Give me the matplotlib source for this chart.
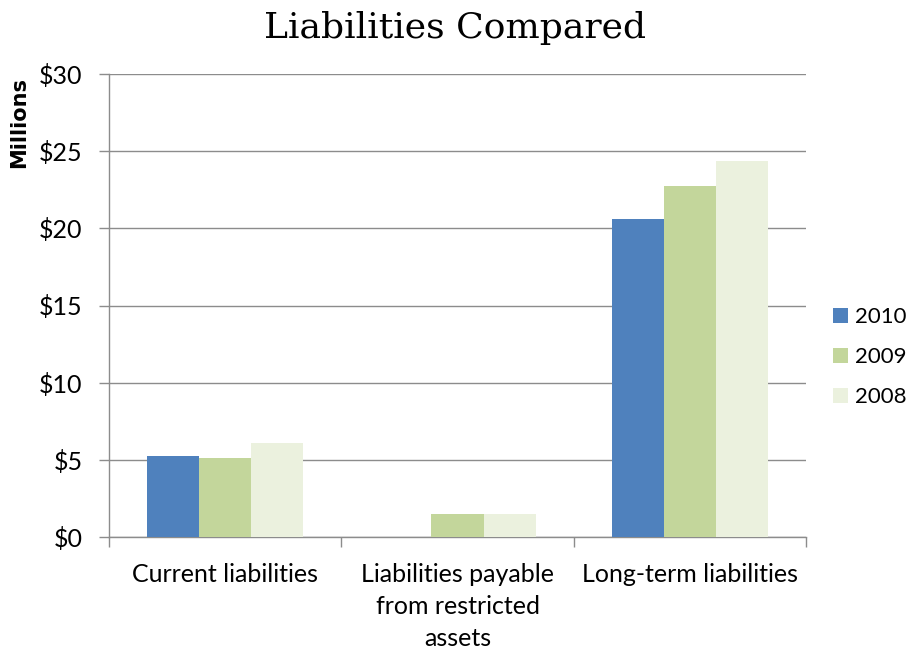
import matplotlib
matplotlib.use("Agg")
import matplotlib.pyplot as plt
import numpy as np

categories = ["Current liabilities", "Liabilities payable\nfrom restricted\nassets", "Long-term liabilities"]
years = ["2010", "2009", "2008"]
values_2010 = [5.25, 0.0, 20.6]
values_2009 = [5.15, 1.5, 22.75]
values_2008 = [6.1, 1.5, 24.35]
series = [values_2010, values_2009, values_2008]
colors = ["#4F81BD", "#C3D69B", "#EBF1DE"]
yticks = [0, 5, 10, 15, 20, 25, 30]
ytick_labels = ["$0", "$5", "$10", "$15", "$20", "$25", "$30"]

label_font = "Lato"
axis_gray = "#8C8C8C"

W, H = 911, 649
fig = plt.figure(figsize=(W / 100, H / 100), dpi=100)
left, right, top, bottom = 109, 806, 74, 537
ax = fig.add_axes([left / W, 1 - bottom / H, (right - left) / W, (bottom - top) / H])

x = np.arange(len(categories))
width = 0.224
for i, (vals, c, yr) in enumerate(zip(series, colors, years)):
    ax.bar(x + (i - 1) * width, vals, width, color=c, label=yr, zorder=3, linewidth=0)

ax.set_xlim(-0.5, 2.5)
ax.set_ylim(0, 30)
ax.set_yticks(yticks)
ax.set_yticklabels(ytick_labels, fontfamily=label_font, fontsize=18)
ax.yaxis.grid(True, color=axis_gray, linewidth=1, zorder=0)
ax.set_axisbelow(True)

# Category labels centered, tick marks at category boundaries
ax.set_xticks(x)
ax.set_xticklabels(categories, fontfamily=label_font, fontsize=18, linespacing=1.47, va="top")
ax.tick_params(axis="x", which="major", length=0, pad=19)
ax.set_xticks([-0.5, 0.5, 1.5, 2.5], minor=True)
ax.tick_params(axis="x", which="minor", length=7, color=axis_gray, width=1, direction="out")
ax.tick_params(axis="y", length=7, color=axis_gray, width=1, direction="out", pad=12)

for side in ["top", "right"]:
    ax.spines[side].set_visible(False)
for side in ["left", "bottom"]:
    ax.spines[side].set_color(axis_gray)
    ax.spines[side].set_linewidth(1)

fig.text(455 / W, 1 - 38 / H, "Liabilities Compared",
         ha="center", va="baseline", fontfamily="DejaVu Serif", fontsize=26)
fig.text(19 / W, 1 - 123 / H, "Millions", rotation=90, ha="center", va="center",
         fontfamily="DejaVu Sans", fontweight="bold", fontsize=15)

leg = ax.legend(loc="center left", bbox_to_anchor=(833 / W, 1 - 357 / H),
                bbox_transform=fig.transFigure, frameon=False, borderpad=0,
                borderaxespad=0, prop={"family": label_font, "size": 16},
                handlelength=0.68, handleheight=0.68, handletextpad=0.32,
                labelspacing=0.9)

fig.savefig("out.png", dpi=100)
